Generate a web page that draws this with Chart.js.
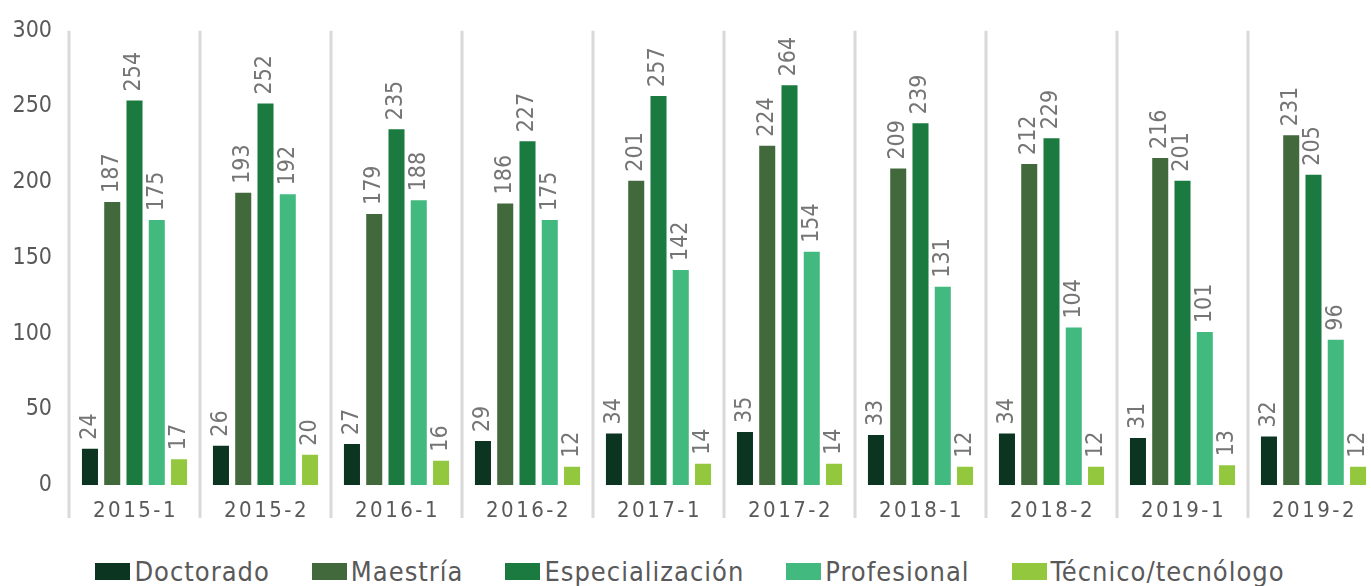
<!DOCTYPE html>
<html>
<head>
<meta charset="utf-8">
<script src="https://cdn.jsdelivr.net/npm/chart.js@4.4.1/dist/chart.umd.min.js"></script>
<style>
  html, body { margin: 0; padding: 0; background: #fff; overflow: hidden; }
  #wrap { position: relative; width: 1380px; height: 586px; }
  #chart-box { position: absolute; left: 0; top: 0; width: 1380px; height: 530px; }
  #legend {
    position: absolute; left: 0; top: 556px; width: 1380px;
    display: flex; justify-content: center; gap: 42px;
    font-family: "DejaVu Sans Condensed", sans-serif;
    font-size: 27px; color: #595959; letter-spacing: 1px;
  }
  #legend .item { display: flex; align-items: center; }
  #legend .box { width: 35px; height: 17px; margin-right: 4px; }
</style>
</head>
<body>
<div id="wrap">
  <div id="chart-box"><canvas id="chart"></canvas></div>
  <div id="legend"></div>
</div>
<script>
const periods = ["2015-1", "2015-2", "2016-1", "2016-2", "2017-1", "2017-2", "2018-1", "2018-2", "2019-1", "2019-2"];
const doctorado = [24, 26, 27, 29, 34, 35, 33, 34, 31, 32];
const maestria = [187, 193, 179, 186, 201, 224, 209, 212, 216, 231];
const especializacion = [254, 252, 235, 227, 257, 264, 239, 229, 201, 205];
const profesional = [175, 192, 188, 175, 142, 154, 131, 104, 101, 96];
const tecnico = [17, 20, 16, 12, 14, 14, 12, 12, 13, 12];
const yTicks = [0, 50, 100, 150, 200, 250, 300];

const FONT = '"DejaVu Sans Condensed", sans-serif';

const series = [
    { label: "Doctorado", data: doctorado, color: "#0b3520" },
    { label: "Maestría", data: maestria, color: "#41693c" },
    { label: "Especialización", data: especializacion, color: "#1b7a40" },
    { label: "Profesional", data: profesional, color: "#41b97f" },
    { label: "Técnico/tecnólogo", data: tecnico, color: "#93c83e" },
];

// separators between periods (running down past the axis) + spaced period labels
const periodAxis = {
    id: "periodAxis",
    beforeDatasetsDraw(chart) {
        const { ctx, chartArea, scales } = chart;
        const x = scales.x;
        const step = x.getPixelForValue(1) - x.getPixelForValue(0);
        ctx.save();
        ctx.strokeStyle = "#d9d9d9";
        ctx.lineWidth = 3;
        for (let i = 0; i <= periods.length; i++) {
            const px = Math.round(x.getPixelForValue(i) - step / 2);
            ctx.beginPath();
            ctx.moveTo(px, chartArea.top);
            ctx.lineTo(px, chartArea.bottom + 33);
            ctx.stroke();
        }
        ctx.fillStyle = "#595959";
        ctx.font = "22px " + FONT;
        ctx.letterSpacing = "2.5px";
        ctx.textAlign = "center";
        ctx.textBaseline = "middle";
        periods.forEach((p, i) => {
            ctx.fillText(p, x.getPixelForValue(i) + 1, chartArea.bottom + 26);
        });
        ctx.restore();
    },
};

// vertical value labels above each bar
const valueLabels = {
    id: "valueLabels",
    afterDatasetsDraw(chart) {
        const { ctx } = chart;
        ctx.save();
        ctx.fillStyle = "#757575";
        ctx.font = "23px " + FONT;
        ctx.textAlign = "left";
        ctx.textBaseline = "middle";
        chart.data.datasets.forEach((ds, di) => {
            chart.getDatasetMeta(di).data.forEach((bar, i) => {
                ctx.save();
                ctx.translate(bar.x, bar.y - 9);
                ctx.rotate(-Math.PI / 2);
                ctx.fillText(String(ds.data[i]), 0, 0);
                ctx.restore();
            });
        });
        ctx.restore();
    },
};

new Chart(document.getElementById("chart"), {
    type: "bar",
    data: {
        labels: periods,
        datasets: series.map((s) => ({
            label: s.label,
            data: s.data,
            backgroundColor: s.color,
            borderWidth: 0,
        })),
    },
    options: {
        responsive: true,
        maintainAspectRatio: false,
        animation: false,
        categoryPercentage: 0.85,
        barPercentage: 0.72,
        layout: { padding: { left: 14, right: 1, top: 4, bottom: 37 } },
        plugins: {
            legend: { display: false },
            tooltip: { enabled: false },
        },
        scales: {
            x: {
                grid: { display: false },
                border: { display: false },
                ticks: { display: false },
            },
            y: {
                min: 0,
                max: 300,
                afterBuildTicks: (axis) => {
                    axis.ticks = yTicks.map((v) => ({ value: v }));
                },
                afterFit: (axis) => {
                    axis.width = 55;
                },
                grid: { display: false, drawTicks: false },
                border: { display: false },
                ticks: {
                    color: "#595959",
                    padding: 17,
                    font: { family: FONT, size: 23 },
                },
            },
        },
    },
    plugins: [periodAxis, valueLabels],
});

const legend = document.getElementById("legend");
series.forEach((s) => {
    const item = document.createElement("div");
    item.className = "item";
    const box = document.createElement("span");
    box.className = "box";
    box.style.background = s.color;
    const txt = document.createElement("span");
    txt.textContent = s.label;
    item.appendChild(box);
    item.appendChild(txt);
    legend.appendChild(item);
});
</script>
</body>
</html>
